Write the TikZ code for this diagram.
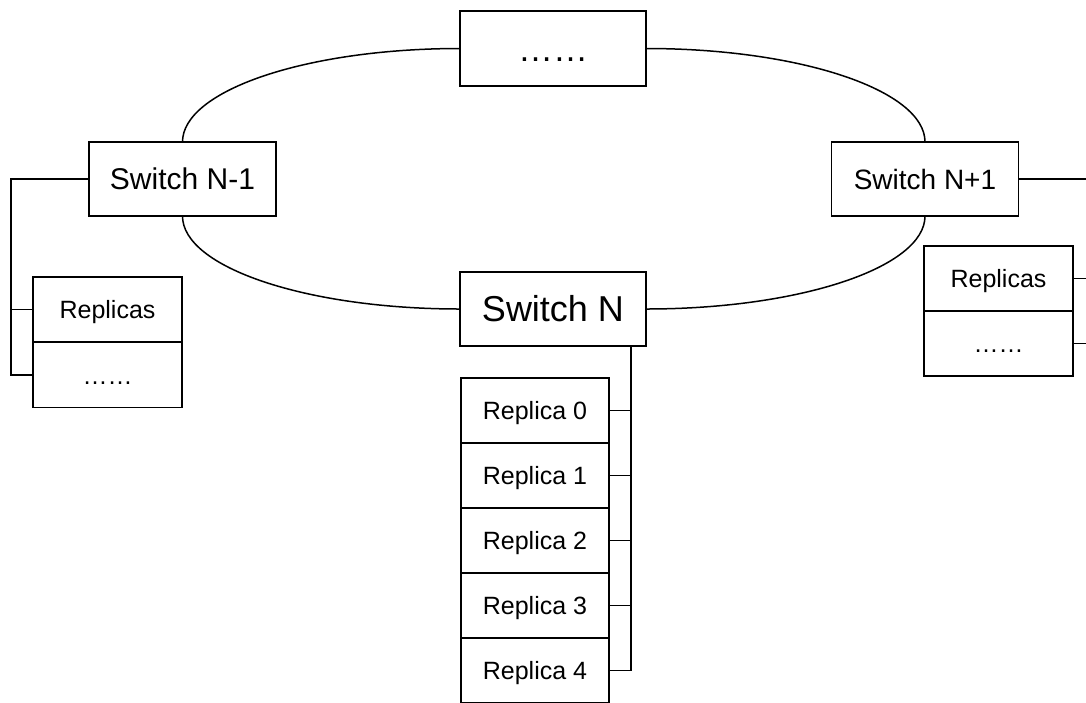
\documentclass[tikz,border=0pt]{standalone}
\usepackage{fontspec}
\setmainfont{Liberation Sans}
\usepackage{tikz}

\begin{document}
\begin{tikzpicture}[x=1pt, y=-1pt, line width=1.5pt,
	box/.style = {draw, fill=white, inner sep=0pt, outer sep=0pt, text depth=0pt},
	ringbox/.style = {box, minimum width=186pt, minimum height=75pt, font=\fontsize{35}{42}\selectfont, text height=25pt},
	switchbox/.style = {box, minimum width=187pt, minimum height=74pt, font=\fontsize{28}{34}\selectfont, text height=20pt},
	replicabox/.style = {box, minimum width=148pt, minimum height=65pt, font=\fontsize{25}{30}\selectfont, text height=18pt}]
	\useasboundingbox (0,0) rectangle (1086,702);
	% ring of switches
	\node [ringbox] (etc) at (553,48.5) {……};
	\node [switchbox, font=\fontsize{30}{36}\selectfont, text height=21.5pt] (swprev) at (182.5,179) {Switch N-1};
	\node [switchbox] (swnext) at (925,179) {Switch N+1};
	\node [ringbox, minimum height=74pt, font=\fontsize{36}{43}\selectfont] (sw) at (553,309) {Switch N};
	\draw (etc.west) arc [start angle = 90, end angle = 180, x radius = 277.5pt, y radius = 93.5pt];
	\draw (swprev.south) arc [start angle = 180, end angle = 270, x radius = 277.5pt, y radius = 93pt];
	\draw (sw.east) arc [start angle = 270, end angle = 360, x radius = 279pt, y radius = 93pt];
	\draw (swnext.north) arc [start angle = 0, end angle = 90, x radius = 279pt, y radius = 93.5pt];
	% replicas under switch N
	\foreach \i in {0,...,4}
		\node [replicabox] (rep\i) at (535,410.5+65*\i) {Replica \i};
	\coordinate (swbus) at (631,0);
	\draw (sw.south -| swbus) |- (rep4.east);
	\foreach \i in {0,...,3}
		\draw (rep\i.east) -- (rep\i.east -| swbus);
	% replicas of switch N-1
	\node [replicabox, minimum width=149pt] (prevrep) at (107.5,309.5) {Replicas};
	\node [replicabox, minimum width=149pt] (prevmore) at (107.5,375) {……};
	\coordinate (prevbus) at (11,179);
	\draw (swprev.west) -- (prevbus) |- (prevmore.west);
	\draw (prevrep.west) -- (prevrep.west -| prevbus);
	% replicas of switch N+1
	\node [replicabox, minimum width=149pt] (nextrep) at (998.5,278.5) {Replicas};
	\node [replicabox, minimum width=149pt] (nextmore) at (998.5,343.5) {……};
	\coordinate (nextbus) at (1086,0);
	\draw (swnext.east) -- (swnext.east -| nextbus);
	\draw (nextrep.east) -- (nextrep.east -| nextbus);
	\draw (nextmore.east) -- (nextmore.east -| nextbus);
\end{tikzpicture}
\end{document}
